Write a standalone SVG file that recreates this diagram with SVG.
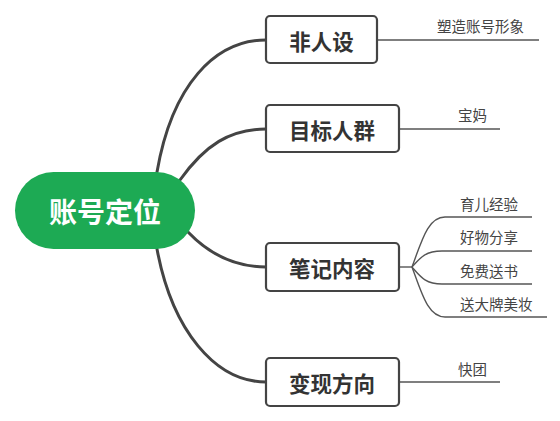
<svg xmlns="http://www.w3.org/2000/svg" width="560" height="421" viewBox="0 0 560 421">
<style>
.main{fill:#fff;stroke:#444;stroke-width:2.2}
.mt{font-family:"Noto Sans CJK SC","Noto Sans",sans-serif;font-weight:bold;font-size:21.5px;fill:#333;text-anchor:middle}
.lt{font-family:"Noto Sans CJK SC","Noto Sans",sans-serif;font-size:14.5px;fill:#444}
.c{fill:none;stroke:#444;stroke-width:3;stroke-linecap:round}
.l{fill:none;stroke:#555;stroke-width:1.4}
</style>
<rect width="560" height="421" fill="#fff"/>
<g id="connectors">
<path class="c" d="M157,172 C172,85 215,40 266,40"/>
<path class="c" d="M180,180 C205,145 230,129 266,129"/>
<path class="c" d="M188,232 C210,255 235,267 266,267"/>
<path class="c" d="M157,249 C172,330 215,382 266,382"/>
<path class="l" d="M377,40 L539,40"/>
<path class="l" d="M399,129 L500,129"/>
<path class="l" d="M399,267 L412,267"/>
<path class="l" d="M412,267 C422,240 428,217 445,217 L532,217"/>
<path class="l" d="M412,267 C420,258 425,251 442,251 L532,251"/>
<path class="l" d="M412,267 C420,276 425,284 442,284 L532,284"/>
<path class="l" d="M412,267 C422,294 428,317 445,317 L547,317"/>
<path class="l" d="M399,382 L500,382"/>
</g>
<g id="center">
<rect x="15" y="172" width="180" height="77" rx="38.5" fill="#1DAA54"/>
<text x="105" y="223" font-family="'Noto Sans CJK SC','Noto Sans',sans-serif" font-weight="bold" font-size="28" fill="#fff" text-anchor="middle">账号定位</text>
</g>
<g id="n1">
<rect class="main" x="266" y="16" width="111" height="47" rx="4"/>
<text class="mt" x="321.5" y="50">非人设</text>
</g>
<g id="n2">
<rect class="main" x="266" y="105" width="133" height="47" rx="4"/>
<text class="mt" x="332" y="139">目标人群</text>
</g>
<g id="n3">
<rect class="main" x="266" y="243" width="133" height="48" rx="4"/>
<text class="mt" x="332" y="277">笔记内容</text>
</g>
<g id="n4">
<rect class="main" x="266" y="358" width="133" height="48" rx="4"/>
<text class="mt" x="332" y="392">变现方向</text>
</g>
<g id="leaf1"><text class="lt" x="437" y="32">塑造账号形象</text></g>
<g id="leaf2"><text class="lt" x="458" y="121">宝妈</text></g>
<g id="leaf3"><text class="lt" x="460" y="210">育儿经验</text></g>
<g id="leaf4"><text class="lt" x="460" y="243">好物分享</text></g>
<g id="leaf5"><text class="lt" x="460" y="277">免费送书</text></g>
<g id="leaf6"><text class="lt" x="460" y="310">送大牌美妆</text></g>
<g id="leaf7"><text class="lt" x="458" y="375">快团</text></g>
</svg>
